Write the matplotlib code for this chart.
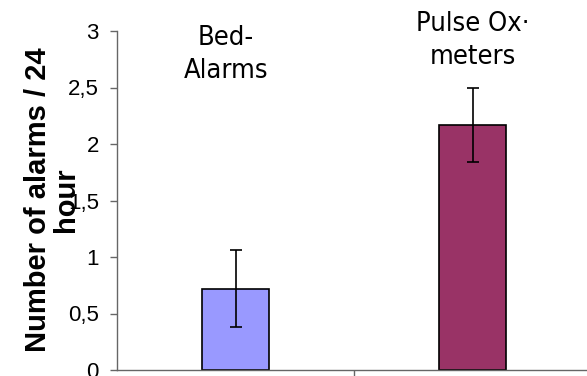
import matplotlib.pyplot as plt

# datos
categorias = ["Bed-\nAlarms", "Pulse Ox·\nmeters"]
medias = [0.72, 2.17]
errores = [0.34, 0.33]
colores = ["#9999FF", "#993366"]
ticks_y = [0, 0.5, 1, 1.5, 2, 2.5, 3]
etiquetas_y = ["0", "0,5", "1", "1,5", "2", "2,5", "3"]

fig = plt.figure(figsize=(5.87, 3.76), dpi=100)
ax = fig.add_axes([117 / 587, 6 / 376, 474 / 587, 339 / 376])

pos = list(range(len(medias)))
ax.bar(pos, medias, width=0.28, color=colores, edgecolor="black", linewidth=1.2,
       yerr=errores, capsize=4, error_kw=dict(elinewidth=1.2, capthick=1.2, ecolor="black"))

ax.set_xlim(-0.5, 1.5)
ax.set_ylim(0, 3)
ax.set_yticks(ticks_y)
ax.set_yticklabels(etiquetas_y, fontfamily="Liberation Sans", fontsize=16)
ax.set_xticks([0.5])
ax.set_xticklabels([])
ax.tick_params(axis="both", direction="out", length=5, color="#666666", width=1)
ax.tick_params(axis="y", pad=8)

for lado in ["top", "right"]:
    ax.spines[lado].set_visible(False)
for lado in ["left", "bottom"]:
    ax.spines[lado].set_color("#666666")
    ax.spines[lado].set_linewidth(1)

# etiquetas de las categorias arriba de las barras
ax.text(-0.04, 2.79, categorias[0], ha="center", va="center", fontsize=19.5,
        fontfamily="DejaVu Sans", fontstretch="condensed", linespacing=1.35)
ax.text(1.0, 2.92, categorias[1], ha="center", va="center", fontsize=19.5,
        fontfamily="DejaVu Sans", fontstretch="condensed", linespacing=1.35)

fig.text(52 / 587, 1 - 200 / 376, "Number of alarms / 24\nhour", rotation=90,
         ha="center", va="center", fontsize=21, fontweight="bold",
         fontfamily="Liberation Sans", linespacing=1.0)

fig.savefig("out.png", dpi=100)
